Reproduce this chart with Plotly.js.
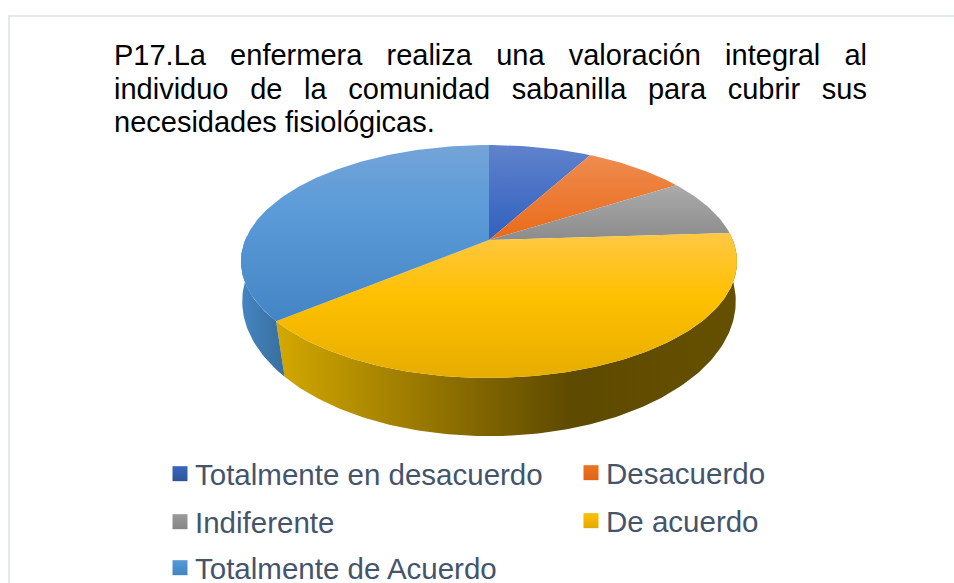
<!DOCTYPE html>
<html>
<head>
<meta charset="utf-8">
<script src="https://cdn.plot.ly/plotly-3.0.1.min.js"></script>
<style>
html,body{margin:0;padding:0;background:#fff}
#chart{width:954px;height:583px}
.legendtext,.legend2text,.legend3text,.legend4text,.legend5text{transform:translateX(-5px)}
</style>
</head>
<body>
<div id="chart"></div>
<script>
const titleLines = [
  "P17.La enfermera realiza una valoración integral al",
  "individuo de la comunidad sabanilla para cubrir sus",
  "necesidades fisiológicas."
];
const categories = ["Totalmente en desacuerdo","Desacuerdo","Indiferente","De acuerdo","Totalmente de Acuerdo"];
const values = [8,8,8,40,36];
const keyColors = ["#3A66BE","#ED7425","#9B9B9B","#FFC000","#5499D5"];
const keyGradientEnds = ["#2F5597","#DD6514","#858585","#E0AA00","#3F86C4"];
const legendX = [160,571,160,571,160];
const legendY = [448,447,496,495,542];

// top face gradients: [start y, stop y, colour stops]
const topGradients = [
  [145,240,[[0,"#5F82CC"],[1,"#3160BE"]]],
  [155,240,[[0,"#EE8C50"],[1,"#EA6A18"]]],
  [175,240,[[0,"#B0B0B0"],[1,"#8C8C8C"]]],
  [232,378,[[0,"#FFC846"],[0.45,"#FFC000"],[1,"#E6AD00"]]],
  [145,330,[[0,"#74A4D8"],[0.35,"#5B9BD8"],[1,"#4283C4"]]]
];
// visible side walls: slice index, colour stops, x range
const wallColors = {
  3:[276,737,[[0,"#D4A800"],[0.2,"#AE8A00"],[0.45,"#7F6400"],[0.64,"#5E4A00"],[1,"#655000"]]],
  4:[241,282,[[0,"#4585C2"],[1,"#38709F"]]]
};

const TOP = {cx:489, cy:240, R:243.8, H:112.5, k:0.1845};
const BOTTOM = {cx:489, cy:285, R:245, H:133, k:0.12};
function project(p, deg){
  const a = deg*Math.PI/180, u = Math.sin(a), v = Math.cos(a), w = 1 + p.k*v;
  return [p.cx + p.R*u/w, p.cy - p.H*v/w];
}
function arc(p, d0, d1){
  const out = [], n = Math.max(2, Math.ceil(Math.abs(d1-d0)));
  for(let i=0;i<=n;i++) out.push(project(p, d0+(d1-d0)*i/n));
  return out;
}
const total = values.reduce((a,b)=>a+b,0);
const angles = [0];
values.forEach(v=>angles.push(angles[angles.length-1]+v/total*360));

const traces = [];
// side walls first
[[3,angles[3],angles[4]],[4,angles[4],272]].forEach(([i,a,b])=>{
  const pts = arc(TOP,a,b).concat(arc(BOTTOM,b,a));
  pts.push(pts[0]);
  const g = wallColors[i];
  traces.push({type:"scatter",mode:"lines",x:pts.map(p=>p[0]),y:pts.map(p=>p[1]),fill:"toself",
    line:{width:0},showlegend:false,hoverinfo:"skip",
    fillgradient:{type:"horizontal",start:g[0],stop:g[1],colorscale:g[2]}});
});
// top faces
values.forEach((v,i)=>{
  const pts = [[TOP.cx,TOP.cy]].concat(arc(TOP,angles[i],angles[i+1]));
  pts.push(pts[0]);
  const g = topGradients[i];
  traces.push({type:"scatter",mode:"lines",x:pts.map(p=>p[0]),y:pts.map(p=>p[1]),fill:"toself",
    line:{width:0},showlegend:false,hoverinfo:"skip",
    fillgradient:{type:"vertical",start:g[0],stop:g[1],colorscale:g[2]}});
});
// legend entries
categories.forEach((c,i)=>{
  traces.push({type:"scatter",mode:"markers",x:[null],y:[null],name:c,hoverinfo:"skip",
    legend:i===0?"legend":"legend"+(i+1),
    marker:{symbol:"square",size:15,color:keyColors[i],line:{width:0},
            gradient:{type:"vertical",color:keyGradientEnds[i]}}});
});

const ctx = document.createElement("canvas").getContext("2d");
const titleSize = 29;
ctx.font = titleSize+"px 'Liberation Sans'";
const LEFT = 114, RIGHT = 867;
const annotations = titleLines.map((t,i)=>{
  const n = t.split(" ").length-1;
  const ws = i<2 ? (RIGHT-LEFT-ctx.measureText(t).width)/n : 0;
  return {xref:"x",yref:"y",x:LEFT,y:55+33.5*i,xanchor:"left",yanchor:"middle",showarrow:false,align:"left",
    xshift:-2,
    text:'<span style="word-spacing:'+ws.toFixed(2)+'px">'+t+'</span>',
    font:{family:"Liberation Sans",size:titleSize,color:"#000000"}};
});

const layout = {
  width:954,height:583,margin:{l:0,r:0,t:0,b:0,autoexpand:false},
  paper_bgcolor:"#ffffff",plot_bgcolor:"#ffffff",
  xaxis:{range:[0,954],visible:false,fixedrange:true},
  yaxis:{range:[583,0],visible:false,fixedrange:true},
  annotations,
  shapes:[{type:"rect",xref:"x",yref:"y",x0:9,y0:16,x1:990,y1:620,line:{color:"#E4E9F1",width:2}}],
  showlegend:true
};
categories.forEach((c,i)=>{
  layout[i===0?"legend":"legend"+(i+1)] = {
    x:legendX[i]/954,y:1-legendY[i]/583,xanchor:"left",yanchor:"top",
    bgcolor:"rgba(0,0,0,0)",borderwidth:0,itemclick:false,itemdoubleclick:false,
    font:{family:"Liberation Sans",size:29.5,color:"#44546A"}
  };
});
Plotly.newPlot("chart",traces,layout,{displayModeBar:false});
</script>
</body>
</html>
